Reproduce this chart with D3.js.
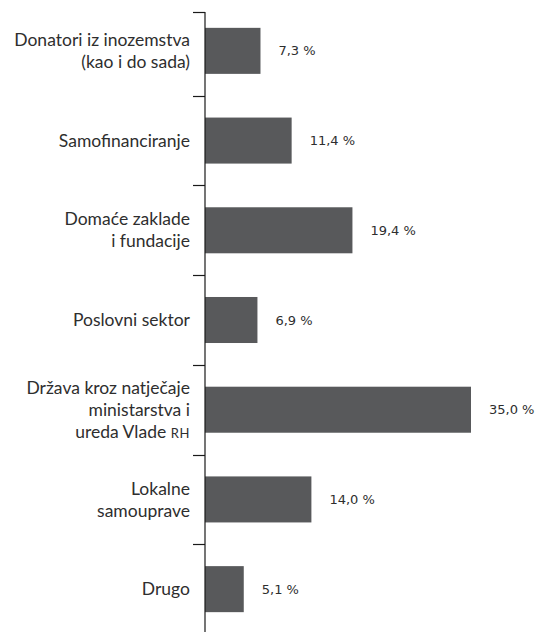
<!DOCTYPE html>
<html>
<head>
<meta charset="utf-8">
<script src="https://cdn.jsdelivr.net/npm/d3@7"></script>
<style>
  html, body { margin: 0; padding: 0; background: #fff; }
  svg { display: block; }
</style>
</head>
<body>
<svg id="chart" width="536" height="632"></svg>
<script>
// Funding sources (each label split into its printed lines; "|" marks small caps)
const categories = [
  ["Donatori iz inozemstva", "(kao i do sada)"],
  ["Samofinanciranje"],
  ["Domaće zaklade", "i fundacije"],
  ["Poslovni sektor"],
  ["Država kroz natječaje", "ministarstva i", "ureda Vlade |RH"],
  ["Lokalne", "samouprave"],
  ["Drugo"]
];
const values = [7.3, 11.4, 19.4, 6.9, 35.0, 14.0, 5.1];
const valueLabels = ["7,3 %", "11,4 %", "19,4 %", "6,9 %", "35,0 %", "14,0 %", "5,1 %"];

const W = 536, H = 632;
const axisX = 205, axisTop = 12;
const barColor = "#58595b";
const textColor = "#2e2e2e";
const labelSize = 17.5;

const svg = d3.select("#chart");
const keys = categories.map((c, i) => i);

const y = d3.scaleBand()
  .domain(keys)
  .range([6, 634])
  .paddingInner(0.487)
  .paddingOuter(0.2435);

const x = d3.scaleLinear()
  .domain([0, 35])
  .range([axisX, 471]);

// Bars
svg.append("g")
  .selectAll("rect")
  .data(values)
  .join("rect")
  .attr("x", x(0))
  .attr("y", (d, i) => y(i))
  .attr("width", d => x(d) - x(0))
  .attr("height", y.bandwidth())
  .attr("fill", barColor);

// Category axis: vertical line with separator ticks between bands
const step = y.step();
const tickYs = [axisTop].concat(keys.slice(1).map(i => y(i) - (step - y.bandwidth()) / 2));
const axis = svg.append("g").attr("stroke", "#1a1a1a").attr("stroke-width", 1.2);
axis.append("line")
  .attr("x1", axisX).attr("x2", axisX)
  .attr("y1", axisTop).attr("y2", H);
axis.selectAll("line.tick")
  .data(tickYs)
  .join("line")
  .attr("class", "tick")
  .attr("x1", axisX - 12).attr("x2", axisX)
  .attr("y1", d => Math.round(d) + 0.5).attr("y2", d => Math.round(d) + 0.5);

// Category labels, right aligned and centred on each bar
const lineH = 22;
const labels = svg.append("g")
  .attr("font-family", "Lato, 'Open Sans', sans-serif")
  .attr("font-size", labelSize)
  .attr("fill", textColor)
  .attr("text-anchor", "end");

categories.forEach((lines, i) => {
  const cy = y(i) + y.bandwidth() / 2;
  const t = labels.append("text")
    .attr("x", 190)
    .attr("y", cy - (lines.length - 1) * lineH / 2);
  lines.forEach((ln, j) => {
    const parts = ln.split("|");
    t.append("tspan")
      .attr("x", 190)
      .attr("dy", j === 0 ? labelSize * 0.35 : lineH)
      .text(parts[0]);
    if (parts[1]) {
      t.append("tspan")
        .attr("font-size", 13)
        .attr("letter-spacing", 0.6)
        .text(parts[1]);
    }
  });
});

// Value labels to the right of each bar
svg.append("g")
  .attr("font-family", "'DejaVu Sans', sans-serif")
  .attr("font-size", 13)
  .attr("fill", textColor)
  .selectAll("text")
  .data(values)
  .join("text")
  .attr("x", d => x(d) + 18)
  .attr("y", (d, i) => y(i) + y.bandwidth() / 2)
  .attr("dy", "0.35em")
  .text((d, i) => valueLabels[i]);
</script>
</body>
</html>
